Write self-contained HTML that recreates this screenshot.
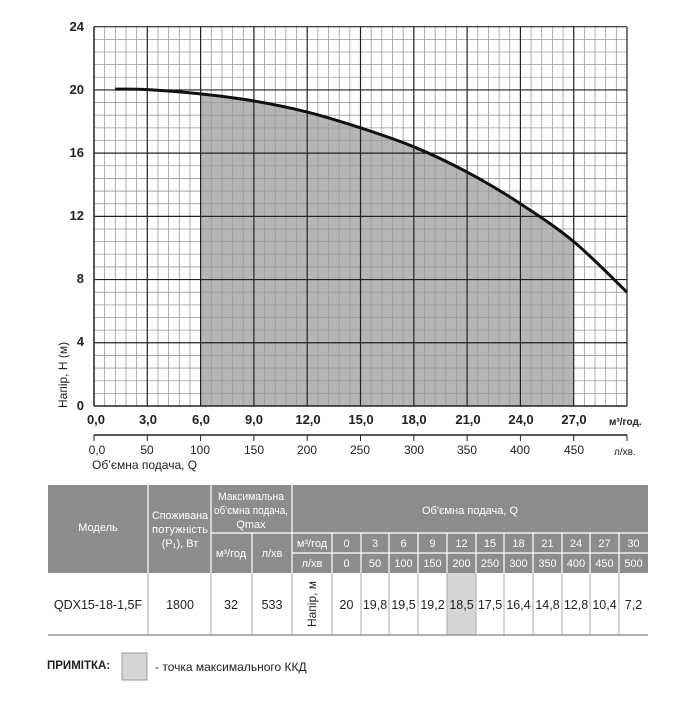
<!DOCTYPE html>
<html><head><meta charset="utf-8"><style>
body{margin:0;background:#fff}
svg text{font-family:"Liberation Sans",sans-serif}
</style></head><body>
<svg width="700" height="700" viewBox="0 0 700 700" xmlns="http://www.w3.org/2000/svg">
<defs><clipPath id="c"><rect x="94" y="26.7" width="533" height="379.3"/></clipPath></defs>
<path clip-path="url(#c)" d="" fill="#b5b5b5"/>
<g id="grid" stroke="#9a9a9a" stroke-width="0.8"></g>
<g id="gridM" stroke="#222" stroke-width="1.2"></g>
<path id="curve" d="" fill="none" stroke="#111" stroke-width="3"/>
<line x1="94" y1="26.7" x2="94" y2="406" stroke="#222" stroke-width="1.5"/>
<line x1="94" y1="406" x2="627" y2="406" stroke="#222" stroke-width="1.5"/>
<g font-size="13" font-weight="bold" fill="#222" text-anchor="end">
<text x="84" y="31">24</text><text x="84" y="94">20</text><text x="84" y="157">16</text><text x="84" y="220">12</text><text x="84" y="283">8</text><text x="84" y="346">4</text><text x="84" y="410">0</text>
</g>
<text transform="translate(67,408) rotate(-90)" font-size="12" fill="#222">Напір, Н (м)</text>
<g font-size="13" font-weight="bold" fill="#222" text-anchor="middle">
<text x="96" y="424">0,0</text><text x="148" y="424">3,0</text><text x="201" y="424">6,0</text><text x="254" y="424">9,0</text><text x="308" y="424">12,0</text><text x="361" y="424">15,0</text><text x="414" y="424">18,0</text><text x="468" y="424">21,0</text><text x="521" y="424">24,0</text><text x="574" y="424">27,0</text>
</g>
<text x="609" y="425" font-size="10" font-weight="bold" fill="#222">м³/год.</text>
<line x1="94" y1="435" x2="627" y2="435" stroke="#222" stroke-width="1.5"/>
<g id="ticks2" stroke="#222" stroke-width="1"></g>
<g font-size="12" fill="#222" text-anchor="middle">
<text x="97" y="454">0,0</text><text x="147" y="454">50</text><text x="200" y="454">100</text><text x="254" y="454">150</text><text x="307" y="454">200</text><text x="360" y="454">250</text><text x="414" y="454">300</text><text x="467" y="454">350</text><text x="520" y="454">400</text><text x="574" y="454">450</text>
</g>
<text x="614" y="455" font-size="10" fill="#222">л/хв.</text>
<text x="92" y="469" font-size="12" fill="#222">Об’ємна подача, Q</text>
<rect x="48" y="485" width="600" height="88" fill="#8c8c8c"/>
<rect x="447" y="573" width="29" height="62" fill="#d6d6d6"/>
<g stroke="#fff" stroke-width="1.2">
<line x1="148" y1="485" x2="148" y2="573"/><line x1="211" y1="485" x2="211" y2="573"/><line x1="292" y1="485" x2="292" y2="573"/>
<line x1="211" y1="533" x2="648" y2="533"/><line x1="252" y1="533" x2="252" y2="573"/>
<line x1="292" y1="553" x2="648" y2="553"/>
<g id="vcols"></g>
</g>
<g stroke="#aaa" stroke-width="1">
<line x1="148" y1="573" x2="148" y2="635"/><line x1="211" y1="573" x2="211" y2="635"/><line x1="252" y1="573" x2="252" y2="635"/><line x1="292" y1="573" x2="292" y2="635"/>
<g id="vcols2"></g>
</g>
<line x1="48" y1="635" x2="648" y2="635" stroke="#999" stroke-width="1.5"/>
<g fill="#fff" font-size="11" text-anchor="middle">
<text x="98" y="531">Модель</text>
<text x="180" y="519" textLength="56" lengthAdjust="spacingAndGlyphs">Споживана</text><text x="180" y="533" textLength="56" lengthAdjust="spacingAndGlyphs">потужність</text><text x="180" y="547">(P₁), Вт</text>
<text x="251" y="500" textLength="66" lengthAdjust="spacingAndGlyphs">Максимальна</text><text x="251" y="514" textLength="74" lengthAdjust="spacingAndGlyphs">об'ємна подача,</text><text x="251" y="528">Qmax</text>
<text x="231" y="557">м³/год</text><text x="272" y="557">л/хв</text>
<text x="312" y="547">м³/год</text><text x="312" y="567">л/хв</text>
<text x="470" y="514">Об'ємна подача, Q</text>
<g id="hdrnums"></g>
</g>
<g fill="#222" font-size="12.5" text-anchor="middle">
<text x="98" y="609">QDX15-18-1,5F</text><text x="180" y="609">1800</text><text x="231" y="609">32</text><text x="272" y="609">533</text>
<text transform="translate(316,604) rotate(-90)" font-size="12" text-anchor="middle">Напір, м</text>
<g id="vals"></g>
</g>
<text x="47" y="669" font-size="11.5" font-weight="bold" fill="#222">ПРИМІТКА:</text>
<rect x="122" y="653" width="25" height="27" fill="#d6d6d6" stroke="#999"/>
<text x="155" y="671" font-size="12" fill="#222">- точка максимального ККД</text>
</svg>
<script>
const NS="http://www.w3.org/2000/svg";
function el(p,t,a,txt){const e=document.createElementNS(NS,t);for(const k in a)e.setAttribute(k,a[k]);if(txt!==undefined)e.textContent=txt;document.getElementById(p).appendChild(e);return e;}
const X=q=>94+q*(533/30), Y=h=>406-h*(379.3/24);
for(let i=1;i<50;i++){if(i%5)el("grid","line",{x1:X(i*0.6),y1:26.7,x2:X(i*0.6),y2:406});}
for(let i=1;i<30;i++){if(i%5)el("grid","line",{x1:94,y1:Y(i*0.8),x2:627,y2:Y(i*0.8)});}
for(let i=1;i<=10;i++)el("gridM","line",{x1:X(i*3),y1:26.7,x2:X(i*3),y2:406});
for(let i=1;i<=6;i++)el("gridM","line",{x1:94,y1:Y(i*4),x2:627,y2:Y(i*4)});
for(let i=0;i<=10;i++)el("ticks2","line",{x1:X(i*3),y1:435,x2:X(i*3),y2:441});
const pts=[[1.2,20.05],[3,20.02],[6,19.75],[9,19.3],[12,18.6],[15,17.6],[18,16.4],[21,14.8],[24,12.8],[27,10.4],[30,7.2]];
function seg(i){const p0=pts[Math.max(0,i-1)],p1=pts[i],p2=pts[i+1],p3=pts[Math.min(pts.length-1,i+2)];
const c1=[p1[0]+(p2[0]-p0[0])/6,p1[1]+(p2[1]-p0[1])/6],c2=[p2[0]-(p3[0]-p1[0])/6,p2[1]-(p3[1]-p1[1])/6];
return ` C${X(c1[0])},${Y(c1[1])} ${X(c2[0])},${Y(c2[1])} ${X(p2[0])},${Y(p2[1])}`;}
let d="M"+X(pts[0][0])+","+Y(pts[0][1]);
for(let i=0;i<pts.length-1;i++)d+=seg(i);
document.getElementById("curve").setAttribute("d",d);
let s="M"+X(6)+",406 L"+X(6)+","+Y(19.75);
for(let i=2;i<9;i++)s+=seg(i);
s+=" L"+X(27)+",406 Z";
document.querySelector("path[clip-path]").setAttribute("d",s);
const cols=[332,361,389,418,447,476,504,533,562,590,619,648];
const m3=[0,3,6,9,12,15,18,21,24,27,30],lh=[0,50,100,150,200,250,300,350,400,450,500];
const v=["20","19,8","19,5","19,2","18,5","17,5","16,4","14,8","12,8","10,4","7,2"];
for(let i=0;i<cols.length-1;i++){el("vcols","line",{x1:cols[i],y1:533,x2:cols[i],y2:573});el("vcols2","line",{x1:cols[i],y1:573,x2:cols[i],y2:635});
const cx=(cols[i]+cols[i+1])/2;el("hdrnums","text",{x:cx,y:547},m3[i]);el("hdrnums","text",{x:cx,y:567},lh[i]);el("vals","text",{x:cx,y:609},v[i]);}
</script>
</body></html>
